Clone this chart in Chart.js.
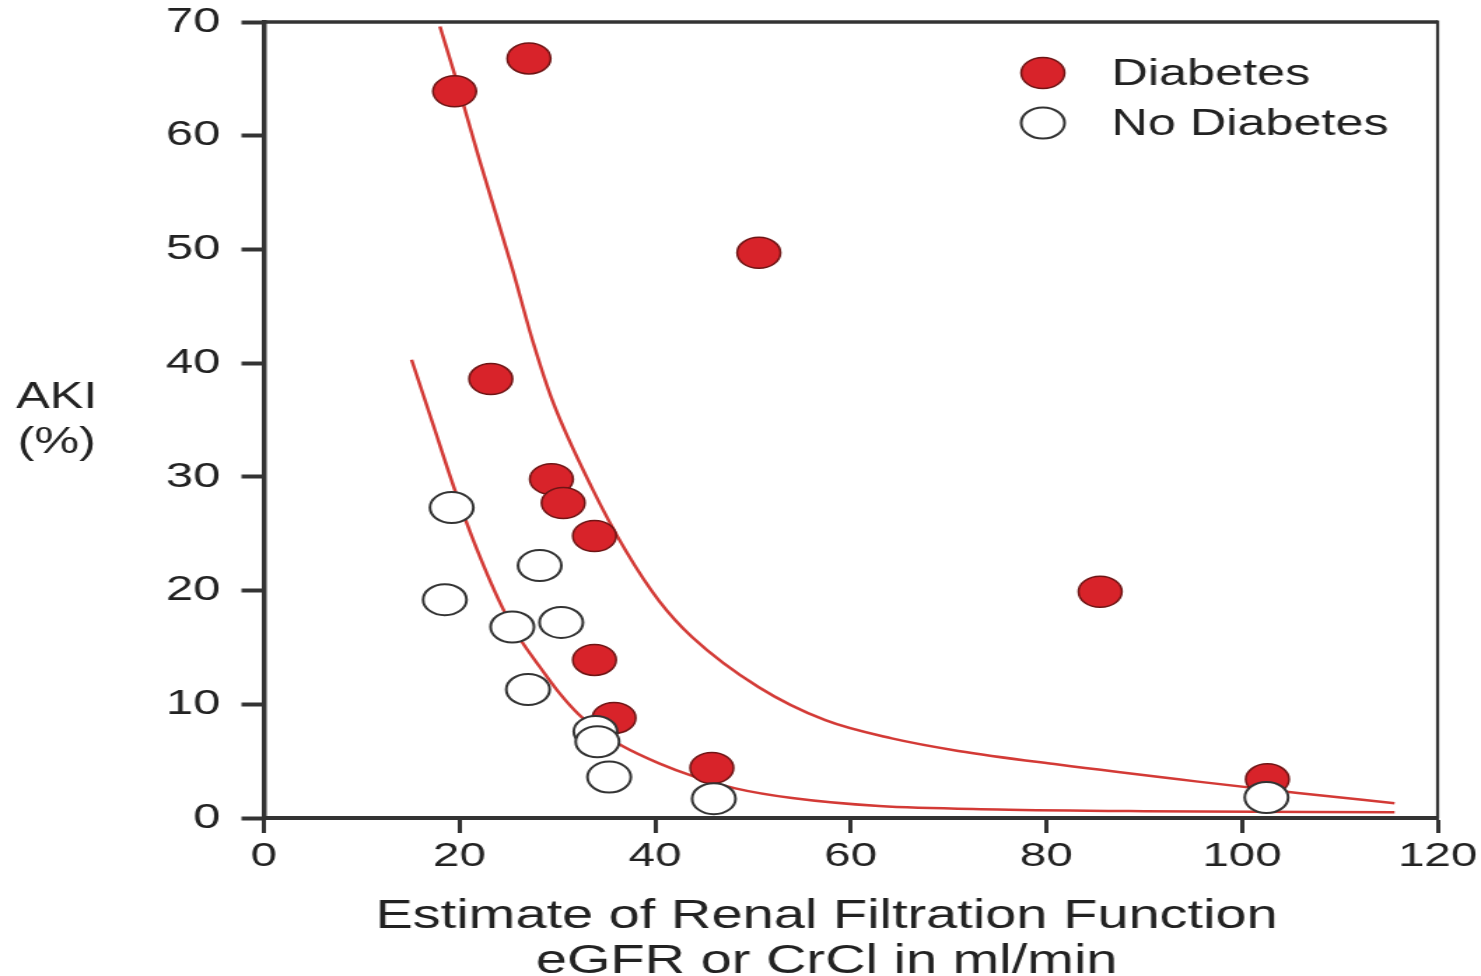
<!DOCTYPE html>
<html>
<head>
<meta charset="utf-8">
<title>AKI vs renal filtration function</title>
<script src="https://cdn.jsdelivr.net/npm/chart.js@4.4.1/dist/chart.umd.min.js"></script>
<style>
  html, body { margin: 0; padding: 0; background: #fff; overflow: hidden; }
  /* the source figure is stretched sideways, so the canvas is drawn narrow and widened by css */
  #chart { display: block; width: 1481px !important; height: 981px !important; }
</style>
</head>
<body>
<canvas id="chart" width="1058" height="981" style="width:1481px;height:981px"></canvas>
<script>
// values
const xTicks = [0, 20, 40, 60, 80, 100, 120];
const yTicks = [0, 10, 20, 30, 40, 50, 60, 70];

const diabetesX = [19.5, 27.1, 50.6, 23.2, 29.4, 30.6, 33.8, 85.5, 33.8, 35.8, 45.8, 102.6];
const diabetesY = [63.9, 66.8, 49.7, 38.6, 29.8, 27.7, 24.8, 19.9, 13.9, 8.8, 4.4, 3.4];

const noDiabetesX = [19.2, 18.5, 28.2, 25.4, 30.4, 27.0, 33.9, 34.1, 35.3, 46.0, 102.5];
const noDiabetesY = [27.3, 19.2, 22.2, 16.8, 17.2, 11.3, 7.6, 6.7, 3.6, 1.7, 1.8];

// fitted curves
const diabetesFitX = [18.0, 19.5, 22.0, 25.4, 27.5, 29.5, 33.5, 37.0, 40.4, 43.8, 50.6, 57.4, 64.2, 71.0, 81.2, 95.5, 105.7, 115.6];
const diabetesFitY = [69.6, 65.4, 58.0, 48.3, 41.9, 36.7, 29.1, 23.5, 19.1, 15.9, 11.5, 8.6, 7.0, 5.9, 4.7, 3.2, 2.2, 1.3];

const noDiabetesFitX = [15.1, 17.3, 19.5, 21.7, 24.5, 26.3, 28.2, 30.2, 32.2, 34.5, 36.7, 40.4, 43.8, 48.2, 54.0, 62.9, 75.0, 90.0, 115.6];
const noDiabetesFitY = [40.3, 34.6, 28.9, 23.8, 18.3, 15.6, 13.3, 11.0, 9.1, 7.5, 6.3, 4.8, 3.7, 2.6, 1.75, 1.05, 0.75, 0.6, 0.5];

const xTitle = ['Estimate of Renal Filtration Function', 'eGFR or CrCl in ml/min'];
const yTitle = ['AKI', '(%)'];

const FONT = "'Liberation Sans', Arial, Helvetica, sans-serif";
const INK = '#222222';
const RED = '#d8232a';
const FIT_RED = '#d33a36';

function toPoints(xs, ys) {
  return xs.map((x, i) => ({ x: x, y: ys[i] }));
}

// top/right frame, horizontal y title, x title and the inset legend
const extras = {
  id: 'extras',
  afterDraw(chart) {
    const { ctx, chartArea: a } = chart;
    ctx.save();

    ctx.strokeStyle = '#333';
    ctx.lineWidth = 3.5;
    ctx.beginPath();
    ctx.moveTo(a.left, a.top);
    ctx.lineTo(a.right, a.top);
    ctx.stroke();
    ctx.lineWidth = 2.2;
    ctx.beginPath();
    ctx.moveTo(a.right, a.top - 1.5);
    ctx.lineTo(a.right, a.bottom);
    ctx.stroke();

    ctx.fillStyle = INK;
    ctx.textAlign = 'center';
    ctx.textBaseline = 'middle';
    ctx.font = '36px ' + FONT;
    yTitle.forEach((t, i) => ctx.fillText(t, 40.5, 398 + i * 45));

    ctx.font = '40px ' + FONT;
    xTitle.forEach((t, i) => ctx.fillText(t, 590.5, 917 + i * 45));

    // legend, using the scatter datasets' own styles
    const items = [chart.data.datasets[1], chart.data.datasets[0]];
    ctx.font = '36px ' + FONT;
    ctx.textAlign = 'left';
    items.forEach((ds, i) => {
      const cy = 73 + i * 50;
      ctx.beginPath();
      ctx.arc(745, cy, ds.pointRadius, 0, Math.PI * 2);
      ctx.fillStyle = ds.pointBackgroundColor;
      ctx.fill();
      ctx.lineWidth = ds.pointBorderWidth;
      ctx.strokeStyle = ds.pointBorderColor;
      ctx.stroke();
      ctx.fillStyle = INK;
      ctx.fillText(ds.label, 794, cy + 2);
    });

    ctx.restore();
  }
};

function init() {
  const ctx = document.getElementById('chart');

  new Chart(ctx, {
    type: 'scatter',
    data: {
      datasets: [
        {
          label: 'No Diabetes',
          data: toPoints(noDiabetesX, noDiabetesY),
          pointRadius: 15.5,
          pointHoverRadius: 15.5,
          pointBackgroundColor: '#ffffff',
          pointBorderColor: '#333333',
          pointBorderWidth: 2,
          showLine: false
        },
        {
          label: 'Diabetes',
          data: toPoints(diabetesX, diabetesY),
          pointRadius: 15.5,
          pointHoverRadius: 15.5,
          pointBackgroundColor: RED,
          pointBorderColor: '#6e1515',
          pointBorderWidth: 1.5,
          showLine: false
        },
        {
          label: 'Diabetes fit',
          data: toPoints(diabetesFitX, diabetesFitY),
          showLine: true,
          pointRadius: 0,
          borderColor: FIT_RED,
          borderWidth: 2.5,
          cubicInterpolationMode: 'monotone'
        },
        {
          label: 'No Diabetes fit',
          data: toPoints(noDiabetesFitX, noDiabetesFitY),
          showLine: true,
          pointRadius: 0,
          borderColor: FIT_RED,
          borderWidth: 2.5,
          cubicInterpolationMode: 'monotone'
        }
      ]
    },
    options: {
      responsive: false,
      devicePixelRatio: 1,
      animation: false,
      layout: { padding: { top: 22, right: 31, bottom: 0, left: 0 } },
      plugins: {
        legend: { display: false },
        tooltip: { enabled: false }
      },
      scales: {
        x: {
          type: 'linear',
          min: 0,
          max: 120,
          afterFit: (scale) => {
            scale.height = 163;
            scale.paddingLeft = 0;
            scale.paddingRight = 0;
          },
          afterBuildTicks: (scale) => { scale.ticks = xTicks.map(v => ({ value: v })); },
          ticks: { font: { size: 34, family: FONT }, color: INK, padding: 3 },
          grid: { drawOnChartArea: false, drawTicks: true, tickLength: 15, tickWidth: 3, tickColor: '#333' },
          border: { display: true, width: 4, color: '#333' }
        },
        y: {
          min: 0,
          max: 70,
          afterFit: (scale) => {
            scale.width = 188.5;
            scale.paddingTop = 0;
            scale.paddingBottom = 0;
          },
          afterBuildTicks: (scale) => { scale.ticks = yTicks.map(v => ({ value: v })); },
          ticks: { font: { size: 35, family: FONT }, color: INK, padding: 15 },
          grid: { drawOnChartArea: false, drawTicks: true, tickLength: 16, tickWidth: 4, tickColor: '#333' },
          border: { display: true, width: 3.5, color: '#333' }
        }
      }
    },
    plugins: [extras]
  });
}

document.addEventListener('DOMContentLoaded', init);
</script>
</body>
</html>
